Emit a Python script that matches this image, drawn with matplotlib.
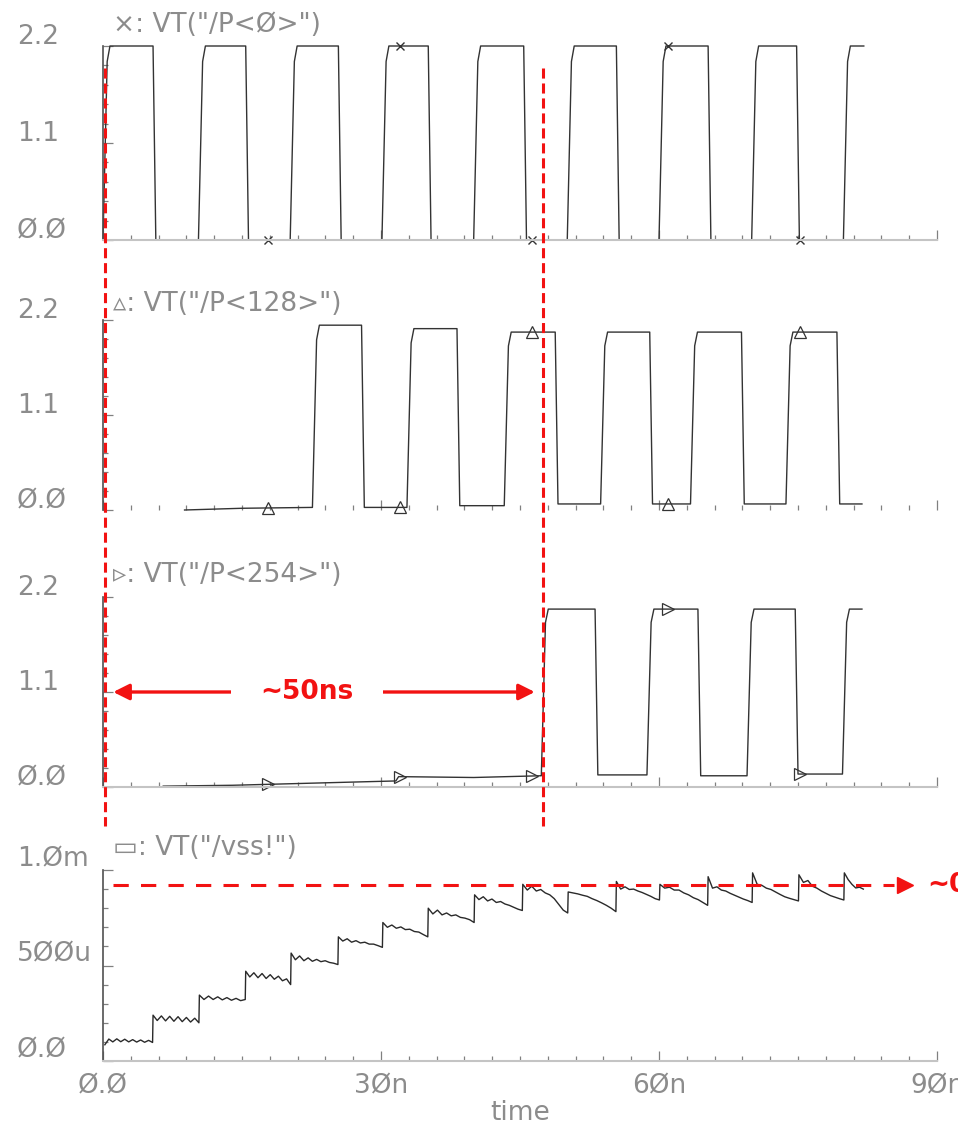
import numpy as np
import matplotlib.pyplot as plt
from matplotlib import transforms
from matplotlib.lines import Line2D
from matplotlib.ticker import MultipleLocator

W, H, DPI = 958, 1125, 100

# time in ns
T_MAX = 90
MARK_T = [17.8, 32.1, 46.3, 61.0, 75.2]

# P<0> clock
P0_PRE_T = [0.0]
P0_PRE_V = [0.0]
P0_RISE = [0.0, 10.3, 20.2, 30.1, 40.0, 50.1, 60.0, 70.0, 79.9]
P0_FALL = [5.4, 15.4, 25.4, 35.1, 45.4, 55.4, 65.3, 74.85]
P0_HIGH = [2.2] * 9
P0_LOW = [0.0] * 8
P0_END = 82.1

# P<128>
P128_PRE_T = [8.8, 15.0, 22.6]
P128_PRE_V = [0.0, 0.02, 0.03]
P128_RISE = [22.6, 32.8, 43.3, 53.7, 63.4, 73.7]
P128_FALL = [27.9, 38.2, 48.8, 59.0, 68.9, 79.2]
P128_HIGH = [2.14, 2.10, 2.06, 2.06, 2.06, 2.06]
P128_LOW = [0.03, 0.05, 0.07, 0.07, 0.07, 0.07]
P128_END = 81.9

# P<254>
P254_PRE_T = [6.5, 14.0, 21.0, 28.0, 31.6, 31.9, 40.0, 47.2]
P254_PRE_V = [0.01, 0.02, 0.04, 0.06, 0.07, 0.12, 0.11, 0.13]
P254_RISE = [47.3, 58.7, 69.5, 79.8]
P254_FALL = [53.1, 64.2, 74.7]
P254_HIGH = [2.06, 2.06, 2.06, 2.06]
P254_LOW = [0.14, 0.13, 0.15]
P254_END = 81.9

# vss bounce, one sample list (uV) per clock half-period
VSS_STEP_T = [0.2, 5.4, 10.4, 15.4, 20.3, 25.4, 30.2, 35.1, 40.1, 45.3,
              50.2, 55.4, 60.1, 65.3, 70.1, 75.1, 80.0]
VSS_END = 82.1
VSS_SEG_UV = [
    [85, 115, 100, 116, 101, 114, 100, 112, 99, 110, 98, 108, 97],
    [240, 212, 236, 210, 234, 208, 232, 206, 228, 204, 224, 200],
    [345, 322, 340, 322, 336, 320, 332, 318, 328, 316, 322],
    [470, 440, 462, 436, 458, 432, 452, 428, 444, 420, 430, 400],
    [565, 530, 550, 525, 540, 522, 532, 520, 525, 516, 512, 505],
    [650, 628, 640, 622, 630, 618, 622, 612, 612, 604, 595],
    [725, 700, 712, 695, 702, 688, 690, 678, 675, 662, 650],
    [800, 770, 790, 765, 775, 760, 765, 752, 748, 740, 725],
    [870, 845, 860, 838, 848, 830, 835, 822, 815, 805, 795, 788],
    [925, 895, 915, 890, 898, 880, 870, 850, 820, 790, 775],
    [885, 880, 875, 868, 862, 850, 840, 828, 815, 800, 782],
    [940, 900, 912, 898, 900, 890, 882, 872, 862, 850, 843],
    [925, 905, 910, 895, 895, 880, 870, 855, 845, 830, 815],
    [965, 905, 912, 895, 890, 878, 868, 858, 848, 840, 830],
    [985, 925, 920, 905, 898, 885, 872, 860, 852, 845, 838],
    [975, 935, 945, 915, 905, 890, 878, 866, 858, 850, 843],
    [985, 950, 925, 906, 910, 900],
]
VSS_PLATEAU = 0.92e-3

# annotation times
DELAY_START = 0.25
DELAY_END = 47.5

GRAY_TXT = "#8c8c8c"
TRACE = "#333333"
RED = "#f21212"


def pulse_train(pre_t, pre_v, rises, falls, highs, lows, t_end):
    t, v = list(pre_t), list(pre_v)
    cur = v[-1]
    edges = sorted([(tr, "r", h) for tr, h in zip(rises, highs)]
                   + [(tf, "f", lo) for tf, lo in zip(falls, lows)])
    for te, kind, lvl in edges:
        if kind == "r":
            t += [te, te + 0.45, te + 0.75]
            v += [cur, cur + 0.92 * (lvl - cur), lvl]
        else:
            t += [te, te + 0.3]
            v += [cur, lvl]
        cur = lvl
    t.append(t_end)
    v.append(cur)
    return np.array(t), np.array(v)


def vss_trace():
    t, v = [], []
    bounds = VSS_STEP_T + [VSS_END]
    for i, seg in enumerate(VSS_SEG_UV):
        t += list(np.linspace(bounds[i], bounds[i + 1] - 0.05, len(seg)))
        v += [x * 1e-6 for x in seg]
    return np.array(t), np.array(v)


fig = plt.figure(figsize=(W / DPI, H / DPI), dpi=DPI)
plt.rcParams["font.family"] = ["DejaVu Sans"]


def px_axes(top, bottom):
    ax = fig.add_axes([103 / W, 1 - bottom / H, (937 - 103) / W, (bottom - top) / H])
    ax.set_facecolor("none")
    ax.set_xlim(0, T_MAX)
    for s in ("top", "right"):
        ax.spines[s].set_visible(False)
    ax.spines["left"].set_color("#505050")
    ax.spines["left"].set_linewidth(1.2)
    ax.spines["bottom"].set_color("#c4c4c4")
    ax.spines["bottom"].set_linewidth(1.5)
    ax.set_xticks([0, 30, 60, 90])
    ax.xaxis.set_minor_locator(MultipleLocator(3))
    ax.tick_params(which="both", direction="in", colors="#808080", width=0.9)
    ax.tick_params(which="major", length=7)
    ax.tick_params(which="minor", length=3.5)
    ax.tick_params(axis="x", labelbottom=False)
    ax.tick_params(axis="y", labelleft=False)
    return ax


def y_label(ax, val, s, lift):
    tr = transforms.blended_transform_factory(fig.transFigure, ax.transData) + \
        transforms.ScaledTranslation(0, lift / DPI, fig.dpi_scale_trans)
    fig.text(17 / W, val, s, transform=tr, ha="left", va="center",
             fontsize=19, color=GRAY_TXT)


def title(ax, s, lift):
    tr = ax.transAxes + transforms.ScaledTranslation(10 / DPI, lift / DPI, fig.dpi_scale_trans)
    ax.text(0, 1, s, transform=tr, ha="left", va="center", fontsize=19, color=GRAY_TXT)


volt_panels = [
    ((46, 240), "×: VT(\"/P<Ø>\")", 21,
     (P0_PRE_T, P0_PRE_V, P0_RISE, P0_FALL, P0_HIGH, P0_LOW, P0_END),
     dict(marker="x", ms=6, mew=1.0)),
    ((320, 510), "▵: VT(\"/P<128>\")", 16,
     (P128_PRE_T, P128_PRE_V, P128_RISE, P128_FALL, P128_HIGH, P128_LOW, P128_END),
     dict(marker="^", ms=8, mew=0.9, fillstyle="none")),
    ((597, 787), "▹: VT(\"/P<254>\")", 22,
     (P254_PRE_T, P254_PRE_V, P254_RISE, P254_FALL, P254_HIGH, P254_LOW, P254_END),
     dict(marker=">", ms=8, mew=0.9, fillstyle="none")),
]

axes = []
for (top, bot), name, lift, wave, mk in volt_panels:
    ax = px_axes(top, bot)
    ax.set_ylim(0, 2.2)
    ax.set_yticks([0, 1.1, 2.2])
    ax.yaxis.set_minor_locator(MultipleLocator(0.22))
    t, v = pulse_train(*wave)
    ax.plot(t, v, color=TRACE, lw=1.0, clip_on=False)
    ax.plot(MARK_T, np.interp(MARK_T, t, v), ls="none", color=TRACE, clip_on=False, **mk)
    title(ax, name, lift)
    for val, s in [(2.2, "2.2"), (1.1, "1.1"), (0, "Ø.Ø")]:
        y_label(ax, val, s, 9)
    axes.append(ax)
axes[1].spines["bottom"].set_visible(False)

# ground bounce panel
ax4 = px_axes(870, 1061)
ax4.set_ylim(0, 1e-3)
ax4.set_yticks([0, 5e-4, 1e-3])
ax4.yaxis.set_minor_locator(MultipleLocator(1e-4))
tv, vv = vss_trace()
ax4.plot(tv, vv, color="#2a2a2a", lw=1.0)
title(ax4, "▭: VT(\"/vss!\")", 22)
for val, s in [(1e-3, "1.Øm"), (5e-4, "5ØØu"), (0, "Ø.Ø")]:
    y_label(ax4, val, s, 11)
ax4.tick_params(axis="x", labelbottom=True, labelsize=19, labelcolor=GRAY_TXT, pad=9)
ax4.set_xticklabels(["Ø.Ø", "3Øn", "6Øn", "9Øn"])
ax4.set_xlabel("time", fontsize=19, color=GRAY_TXT, labelpad=0)

# delay markers spanning the three voltage panels
blend = transforms.blended_transform_factory(axes[0].transData, fig.transFigure)
for tm in (DELAY_START, DELAY_END):
    fig.add_artist(Line2D([tm, tm], [1 - 68 / H, 1 - 826 / H], transform=blend,
                          color=RED, lw=2.2, linestyle=(0, (3.3, 1.6))))

ax3 = axes[2]
ax3.annotate("", xy=(1.1, 1.1), xytext=(46.6, 1.1),
             arrowprops=dict(arrowstyle="<|-|>", color=RED, lw=2.4,
                             mutation_scale=24, shrinkA=0, shrinkB=0))
ax3.text(22.0, 1.1, "~50ns", ha="center", va="center", fontsize=19,
         fontweight="bold", color=RED, zorder=6,
         bbox=dict(boxstyle="square,pad=1.1", fc="white", ec="none"))

# settled vss level
ax4.plot([1.1, 85.4], [VSS_PLATEAU, VSS_PLATEAU], color=RED, lw=2.2,
         linestyle=(0, (5, 4)), clip_on=False)
ax4.plot([86.5], [VSS_PLATEAU], marker=">", ms=11, color=RED, clip_on=False)
ax4.text(88.9, VSS_PLATEAU, "~0.9mV", ha="left", va="center", fontsize=19,
         fontweight="bold", color=RED, clip_on=False)

fig.savefig("out.png", dpi=DPI)
